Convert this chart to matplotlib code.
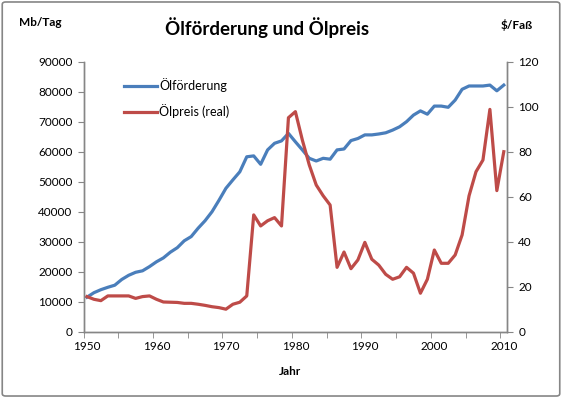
import numpy as np
import matplotlib.pyplot as plt
from matplotlib.patches import FancyBboxPatch

plt.rcParams['font.family'] = ['Lato', 'DejaVu Sans']

# Jahre 1950..2010
years = list(range(1950, 2011))

# Ölförderung in 1000 Barrel/Tag (Mb/Tag)
production = [11500, 13000, 14000, 14800, 15500, 17400, 18800, 19800, 20300, 21700,
              23300, 24600, 26500, 28000, 30300, 31700, 34500, 37000, 40000, 43800,
              47800, 50600, 53300, 58300, 58600, 55800, 60600, 62800, 63600, 66100,
              63300, 60600, 57800, 56900, 57800, 57500, 60600, 60900, 63700, 64400,
              65600, 65600, 65900, 66300, 67200, 68300, 70000, 72200, 73600, 72500,
              75200, 75200, 74800, 77200, 80800, 81900, 81900, 81900, 82200, 80300,
              82200]

# Ölpreis real in $/Faß
price = [15.6, 14.4, 13.8, 15.9, 15.9, 15.9, 15.9, 14.8, 15.6, 15.9,
         14.4, 13.2, 13.1, 13.0, 12.6, 12.6, 12.2, 11.7, 11.1, 10.7,
         10.0, 12.2, 13.1, 15.9, 51.9, 47.0, 49.3, 50.7, 47.0, 95.1,
         97.8, 85.2, 74.1, 65.2, 60.4, 56.3, 28.6, 35.4, 28.0, 31.9,
         39.7, 32.2, 29.6, 25.5, 23.3, 24.4, 28.6, 26.0, 17.1, 23.3,
         36.3, 30.4, 30.4, 34.1, 43.0, 60.4, 71.1, 76.3, 98.8, 62.7,
         80.0]

blue = '#4A7EBB'
red = '#BE4B48'
grey = '#868686'

fig = plt.figure(figsize=(5.62, 3.98), dpi=100)
ax = fig.add_axes([0.1486, 0.1666, 0.754, 0.6784])
ax2 = ax.twinx()

l1, = ax.plot(years, production, color=blue, lw=2.3, label='Ölförderung')
l2, = ax2.plot(years, price, color=red, lw=2.3, label='Ölpreis (real)')

ax.set_xlim(1949.5, 2010.5)
ax.set_ylim(0, 90000)
ax2.set_ylim(0, 120)

ax.set_yticks(np.arange(0, 90001, 10000))
ax2.set_yticks(np.arange(0, 121, 20))
ax.set_xticks(range(1950, 2011, 10))
ax.set_xticks(np.arange(1949.5, 2010, 5), minor=True)

ax.tick_params(axis='x', which='major', length=0, pad=7, labelsize=8.5)
ax.tick_params(axis='x', which='minor', length=4, color=grey, direction='out')
ax.tick_params(axis='y', length=4, color=grey, direction='out', labelsize=8.5, pad=4)
ax2.tick_params(axis='y', length=4, color=grey, direction='out', labelsize=8.5, pad=4)

for a in (ax, ax2):
    a.spines['top'].set_visible(False)
    for s in ('left', 'right', 'bottom'):
        a.spines[s].set_color(grey)
        a.spines[s].set_linewidth(1.0)

leg = ax2.legend(handles=[l1, l2], loc='upper left', bbox_to_anchor=(0.07, 0.98),
                 frameon=False, fontsize=9, handlelength=2.6, handletextpad=0.2,
                 labelspacing=0.95)

fig.text(0.475, 0.93, 'Ölförderung und Ölpreis', ha='center', va='center',
         fontsize=13.5, fontweight='bold')
fig.text(0.072, 0.943, 'Mb/Tag', ha='center', va='center', fontsize=8.5, fontweight='bold')
fig.text(0.92, 0.938, '$/Faß', ha='center', va='center', fontsize=8.5, fontweight='bold')
fig.text(0.516, 0.066, 'Jahr', ha='center', va='center', fontsize=8.5, fontweight='bold')

border = FancyBboxPatch((0.004, 0.005), 0.992, 0.99, boxstyle='round,pad=0,rounding_size=0.006',
                        transform=fig.transFigure, facecolor='none', edgecolor=grey, lw=1.2)
fig.patches.append(border)

fig.savefig('out.png', dpi=100)
